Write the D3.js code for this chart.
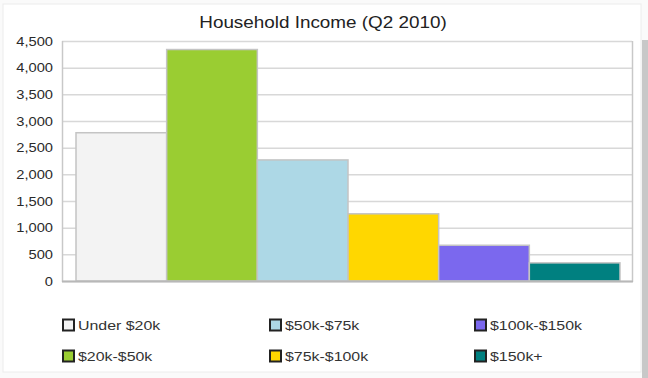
<!DOCTYPE html>
<html>
<head>
<meta charset="utf-8">
<script src="https://cdn.jsdelivr.net/npm/d3@7"></script>
<style>
  body { margin: 0; background: #fff; }
  text { font-family: "Liberation Sans", Arial, sans-serif; }
</style>
</head>
<body>
<script>
// data
var categories = ['Under $20k', '$20k-$50k', '$50k-$75k', '$75k-$100k', '$100k-$150k', '$150k+'];
var households = [2780, 4340, 2270, 1260, 670, 340];
var colours = ['#f3f3f3', '#9acd32', '#add8e6', '#ffd700', '#7b68ee', '#008080'];
var yTicks = [0, 500, 1000, 1500, 2000, 2500, 3000, 3500, 4000, 4500];

var W = 648, H = 378;
var stretch = 1.18; // the source picture's text is a bit wide

var svg = d3.select("body").append("svg")
  .attr("width", W)
  .attr("height", H);

// panel + shadow on the right
svg.append("rect").attr("x", 0).attr("y", 0).attr("width", W).attr("height", H).attr("fill", "#fafafa");
svg.append("rect").attr("x", 642).attr("y", 40).attr("width", 6).attr("height", H - 40).attr("fill", "#c8c8c8");
svg.append("rect").attr("x", 3).attr("y", 4).attr("width", 638).attr("height", 368)
  .attr("fill", "#fff").attr("stroke", "#ececec");

var plotLeft = 62, plotRight = 632, plotTop = 41, plotBottom = 281;

var y = d3.scaleLinear().domain([0, 4500]).range([plotBottom, plotTop]);
var x = d3.scaleBand().domain(categories).range([76, 620]).padding(0);

// title
svg.append("text")
  .attr("transform", "translate(323,28) scale(" + stretch + ",1)")
  .attr("text-anchor", "middle")
  .attr("font-size", 16)
  .attr("fill", "#222")
  .text("Household Income (Q2 2010)");

// gridlines
svg.append("g").selectAll("line")
  .data(yTicks)
  .enter().append("line")
  .attr("x1", plotLeft).attr("x2", plotRight)
  .attr("y1", function(d) { return y(d) + 0.5; })
  .attr("y2", function(d) { return y(d) + 0.5; })
  .attr("stroke", "#d8d8d8")
  .attr("stroke-width", 1.5);

// frame
svg.append("line").attr("x1", plotLeft + 0.5).attr("x2", plotLeft + 0.5)
  .attr("y1", plotTop).attr("y2", plotBottom + 1).attr("stroke", "#c8c8c8").attr("stroke-width", 1.5);
svg.append("line").attr("x1", plotRight + 0.5).attr("x2", plotRight + 0.5)
  .attr("y1", plotTop).attr("y2", plotBottom + 1).attr("stroke", "#c8c8c8").attr("stroke-width", 1.5);

// y axis labels
var yAxis = d3.axisLeft(y).tickValues(yTicks).tickSize(0).tickPadding(8).tickFormat(d3.format(","));
var ax = svg.append("g")
  .attr("transform", "translate(" + plotLeft + ",0)")
  .call(yAxis);
ax.select(".domain").remove();
ax.selectAll("text")
  .attr("font-size", 13)
  .attr("fill", "#2a2a2a")
  .attr("transform", "scale(1.13,1)")
  .attr("font-family", "'Liberation Sans', Arial, sans-serif");

// bars
svg.selectAll("rect.bar")
  .data(households)
  .enter().append("rect")
  .attr("class", "bar")
  .attr("x", function(d, i) { return x(categories[i]); })
  .attr("width", x.bandwidth())
  .attr("y", function(d) { return y(d); })
  .attr("height", function(d) { return plotBottom - y(d); })
  .attr("fill", function(d, i) { return colours[i]; })
  .attr("stroke", "#c4c4c4")
  .attr("stroke-width", 1.5);

// bottom axis line
svg.append("line").attr("x1", plotLeft).attr("x2", plotRight + 1)
  .attr("y1", plotBottom + 0.5).attr("y2", plotBottom + 0.5)
  .attr("stroke", "#b8b8b8").attr("stroke-width", 2);

// legend, 3 columns x 2 rows, filled down the columns
var colX = [62, 269, 474];
var rowY = [325, 356];
var legend = svg.append("g").selectAll("g")
  .data(categories)
  .enter().append("g")
  .attr("transform", function(d, i) {
    return "translate(" + colX[Math.floor(i / 2)] + "," + rowY[i % 2] + ")";
  });
legend.append("rect")
  .attr("x", 1).attr("y", -5.5)
  .attr("width", 11).attr("height", 11)
  .attr("fill", function(d, i) { return colours[i]; })
  .attr("stroke", "#222")
  .attr("stroke-width", 2);
legend.append("text")
  .attr("transform", "translate(16,5) scale(" + stretch + ",1)")
  .attr("font-size", 13.5)
  .attr("fill", "#333")
  .text(function(d) { return d; });
</script>
</body>
</html>
